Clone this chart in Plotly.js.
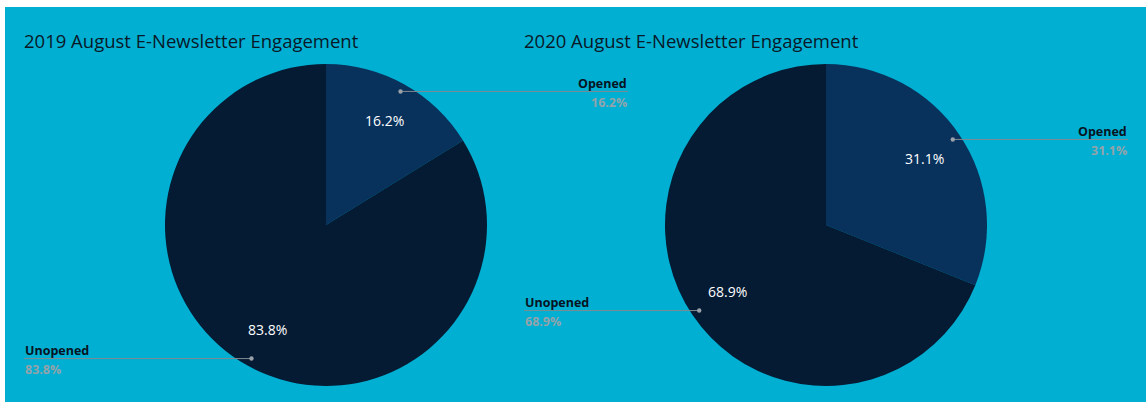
<!DOCTYPE html>
<html>
<head>
<meta charset="utf-8">
<script src="https://cdn.plot.ly/plotly-2.35.2.min.js"></script>
<style>
html,body{margin:0;padding:0;background:#ffffff;width:1146px;height:402px;overflow:hidden;}
#chart{position:absolute;left:5px;top:7px;width:1141px;height:395px;}
</style>
</head>
<body>
<div id="chart"></div>
<script>
// Data
var categories = ["Opened", "Unopened"];
var values2019 = [16.2, 83.8];
var values2020 = [31.1, 68.9];
var titles = ["2019 August E-Newsletter Engagement", "2020 August E-Newsletter Engagement"];
var sliceColors = ["#08315b", "#051a33"];

var W = 1141, H = 395;
var R = 161;
var centers = [[321, 218], [821, 218]];
var FONT = "'Segoe UI', 'Open Sans', sans-serif";

function px(x){ return x / W; }
function py(y){ return 1 - y / H; }

var datasets = [values2019, values2020];
var traces = [];
var annotations = [];
var shapes = [];

datasets.forEach(function(vals, i){
  var c = centers[i];
  traces.push({
    type: "pie",
    labels: categories,
    values: vals,
    sort: false,
    direction: "clockwise",
    rotation: 0,
    textinfo: "none",
    hoverinfo: "label+percent",
    marker: {colors: sliceColors, line: {width: 0}},
    showlegend: false,
    domain: {x: [px(c[0]-R), px(c[0]+R)], y: [py(c[1]+R), py(c[1]-R)]}
  });
  annotations.push({
    text: titles[i], xref: "paper", yref: "paper",
    x: px(c[0]-304), y: py(33), xanchor: "left", yanchor: "middle",
    showarrow: false, font: {family: FONT, size: 18.5, color: "#0a1828"}
  });
  var total = vals.reduce(function(a,b){return a+b;}, 0);
  var cum = 0;
  vals.forEach(function(v, j){
    var mid = (cum + v/2) / total * 2 * Math.PI;
    cum += v;
    var sx = Math.sin(mid), sy = -Math.cos(mid);
    var pct = (v / total * 100).toFixed(1) + "%";
    // inside label
    annotations.push({
      text: pct, xref: "paper", yref: "paper",
      x: px(c[0] + sx * R * 0.74), y: py(c[1] + sy * R * 0.74),
      xanchor: "center", yanchor: "middle", showarrow: false,
      font: {family: FONT, size: 14, color: "#ffffff"}
    });
    // leader dot and line
    var dx = c[0] + sx * R * 0.95, dy = c[1] + sy * R * 0.95;
    var right = sx >= 0;
    var lx = right ? c[0] + 302 : c[0] - 302;
    shapes.push({type: "line", xref: "paper", yref: "paper",
      x0: px(dx), y0: py(dy), x1: px(lx), y1: py(dy),
      line: {color: "#7f8a91", width: 1}});
    shapes.push({type: "circle", xref: "paper", yref: "paper",
      x0: px(dx-2.2), x1: px(dx+2.2), y0: py(dy+2.2), y1: py(dy-2.2),
      fillcolor: "#9aa1a8", line: {width: 0}});
    annotations.push({
      text: "<b>" + categories[j] + "</b>", xref: "paper", yref: "paper",
      x: px(lx + (right ? 1 : -1)), y: py(dy - 8), xanchor: right ? "right" : "left", yanchor: "middle",
      showarrow: false, font: {family: FONT, size: 12.5, color: "#071322"}
    });
    annotations.push({
      text: "<b>" + pct + "</b>", xref: "paper", yref: "paper",
      x: px(lx + (right ? 1 : -1)), y: py(dy + 11), xanchor: right ? "right" : "left", yanchor: "middle",
      showarrow: false, font: {family: FONT, size: 12.5, color: "#94a3aa"}
    });
  });
});

var layout = {
  width: W, height: H,
  margin: {l: 0, r: 0, t: 0, b: 0},
  paper_bgcolor: "#01afd2",
  plot_bgcolor: "#01afd2",
  showlegend: false,
  annotations: annotations,
  shapes: shapes
};
Plotly.newPlot("chart", traces, layout, {displayModeBar: false, staticPlot: true});
</script>
</body>
</html>
